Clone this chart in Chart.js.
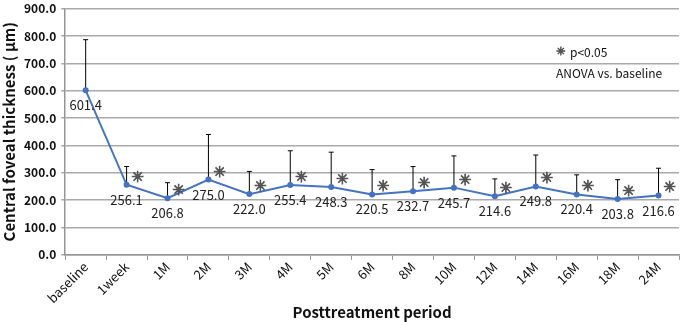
<!DOCTYPE html>
<html>
<head>
<meta charset="utf-8">
<script src="https://cdn.jsdelivr.net/npm/chart.js@4"></script>
<style>
  html, body { margin: 0; padding: 0; background: #fff; }
  #wrap { width: 685px; height: 322px; }
</style>
</head>
<body>
<div id="wrap"><canvas id="myChart" width="685" height="322"></canvas></div>
<script>
const periods = ['baseline', '1week', '1M', '2M', '3M', '4M', '5M', '6M', '8M', '10M', '12M', '14M', '16M', '18M', '24M'];
const thickness = [601.4, 256.1, 206.8, 275.0, 222.0, 255.4, 248.3, 220.5, 232.7, 245.7, 214.6, 249.8, 220.4, 203.8, 216.6];
const sd = [185, 67, 57, 165, 83, 125, 127, 91, 90, 116, 63, 115, 72, 71, 100];
const significant = [false, true, true, true, true, true, true, true, true, true, true, true, true, true, true];
const yMin = 0, yMax = 900, yStep = 100;

const FONT = '"Noto Sans CJK JP", "Liberation Sans", sans-serif';

function star(c, x, y, size) {
  c.font = size + 'px "DejaVu Sans", sans-serif';
  c.fillStyle = '#555';
  c.strokeStyle = '#555';
  c.lineWidth = 0.8;
  c.fillText('\u2733', x, y);
  c.strokeText('\u2733', x, y);
}

// error bars (upper only), value labels, asterisks and the note
const extras = {
  id: 'extras',
  beforeDatasetsDraw(chart) {
    const c = chart.ctx;
    const meta = chart.getDatasetMeta(0);
    const y = chart.scales.y;
    c.save();
    c.strokeStyle = '#000';
    c.lineWidth = 1;
    meta.data.forEach((pt, i) => {
      const top = y.getPixelForValue(thickness[i] + sd[i]);
      c.beginPath();
      c.moveTo(pt.x, pt.y);
      c.lineTo(pt.x, top);
      c.moveTo(pt.x - 2.5, top);
      c.lineTo(pt.x + 2.5, top);
      c.stroke();
    });
    c.restore();
  },
  afterDatasetsDraw(chart) {
    const c = chart.ctx;
    const meta = chart.getDatasetMeta(0);
    const area = chart.chartArea;
    c.save();
    c.textAlign = 'center';
    c.textBaseline = 'middle';
    meta.data.forEach((pt, i) => {
      c.fillStyle = '#222';
      c.font = '13px ' + FONT;
      c.fillText(thickness[i].toFixed(1), pt.x, pt.y + 15);
      if (significant[i]) {
        star(c, pt.x + 11, pt.y - 7, 15);
      }
    });
    c.textAlign = 'left';
    star(c, area.right - 123, 52, 11);
    c.fillStyle = '#111';
    c.font = '12px ' + FONT;
    c.fillText('p<0.05', area.right - 109, 52);
    c.fillText('ANOVA vs. baseline', area.right - 123, 73);
    c.restore();
  }
};

const ctx = document.getElementById('myChart').getContext('2d');
new Chart(ctx, {
  type: 'line',
  data: {
    labels: periods,
    datasets: [
      {
        label: 'Central foveal thickness',
        data: thickness,
        borderColor: 'rgb(68, 114, 196)',
        backgroundColor: 'rgb(68, 114, 196)',
        borderWidth: 2,
        pointRadius: 2,
        pointHoverRadius: 2,
        fill: false,
        tension: 0,
      },
    ],
  },
  options: {
    responsive: false,
    animation: false,
    layout: { padding: { top: 0, right: 6, bottom: 2, left: 0 } },
    plugins: {
      legend: { display: false },
      tooltip: { enabled: false },
    },
    scales: {
      x: {
        offset: true,
        grid: {
          offset: true,
          drawOnChartArea: false,
          color: 'rgb(150, 150, 150)',
          tickLength: 5,
        },
        border: { color: 'rgb(150, 150, 150)', width: 1.5 },
        ticks: {
          color: '#111',
          font: { family: FONT, size: 13, lineHeight: 1 },
          minRotation: 45,
          maxRotation: 45,
          padding: 0,
        },
        title: {
          display: true,
          text: 'Posttreatment period',
          color: '#111',
          font: { family: FONT, size: 15, weight: 'bold', lineHeight: 1 },
          padding: { top: 0, bottom: 0 },
        },
      },
      y: {
        min: yMin,
        max: yMax,
        grid: {
          color: 'rgb(170, 170, 170)',
          lineWidth: 1.5,
          tickLength: 4,
        },
        border: { color: 'rgb(150, 150, 150)', width: 1.5 },
        ticks: {
          stepSize: yStep,
          color: '#111',
          font: { family: FONT, size: 12, weight: 'bold', lineHeight: 0.6 },
          padding: 5,
          callback: (v) => v.toFixed(1),
        },
        title: {
          display: true,
          text: 'Central foveal thickness ( \u03bcm)',
          color: '#111',
          font: { family: FONT, size: 15, weight: 'bold' },
          padding: { top: 0, bottom: 1 },
        },
      },
    },
  },
  plugins: [extras],
});
</script>
</body>
</html>
